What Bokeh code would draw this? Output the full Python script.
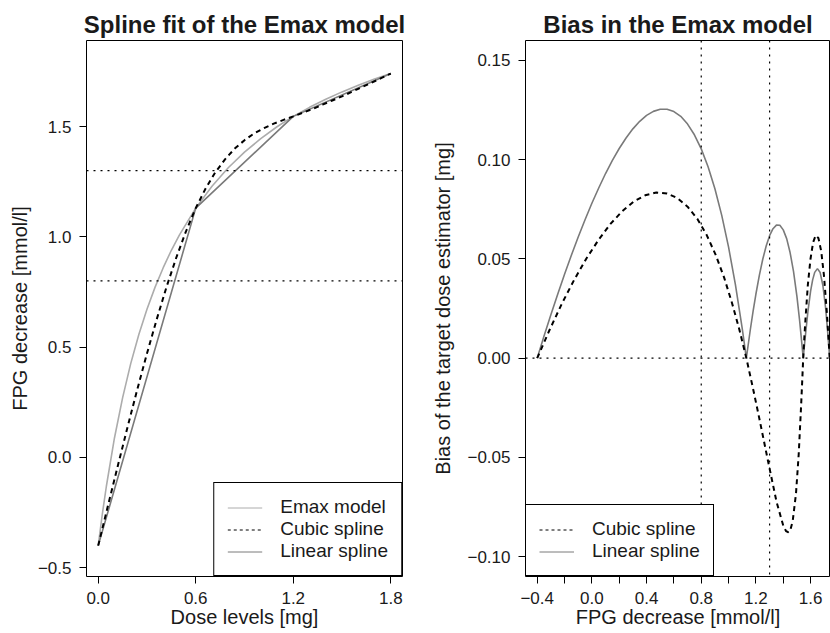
from bokeh.plotting import figure
from bokeh.layouts import row
from bokeh.models import Range1d, FixedTicker, Span, Legend, LegendItem
from bokeh.embed import file_html
from bokeh.resources import INLINE

# ---------------- data ----------------
dose_knots = [0.0, 0.6, 1.2, 1.8]
fpg_knots = [-0.40, 1.13, 1.546, 1.74]

emax_dose = [0.0, 0.025, 0.05, 0.1, 0.15, 0.2, 0.25, 0.3, 0.35, 0.4, 0.45, 0.5, 0.6,
             0.7, 0.8, 0.9, 1.0, 1.1, 1.2, 1.3, 1.4, 1.5, 1.6, 1.7, 1.8]
emax_fpg = [-0.400, -0.259, -0.132, 0.088, 0.270, 0.425, 0.557, 0.672, 0.772, 0.860, 0.939,
            1.009, 1.130, 1.229, 1.313, 1.384, 1.445, 1.499, 1.546, 1.587, 1.624, 1.657,
            1.687, 1.715, 1.740]

cubic_dose = [0.0, 0.06, 0.12, 0.18, 0.24, 0.30, 0.36, 0.42, 0.48, 0.54, 0.60, 0.66, 0.72,
              0.78, 0.84, 0.90, 0.96, 1.02, 1.08, 1.14, 1.20, 1.26, 1.32, 1.38, 1.44, 1.50,
              1.56, 1.62, 1.68, 1.74, 1.80]
cubic_fpg = [-0.400, -0.219, -0.040, 0.136, 0.307, 0.471, 0.626, 0.772, 0.905, 1.025, 1.130,
             1.218, 1.292, 1.351, 1.400, 1.438, 1.469, 1.493, 1.513, 1.530, 1.546, 1.563,
             1.580, 1.599, 1.618, 1.637, 1.657, 1.678, 1.698, 1.719, 1.740]

target_lines = [0.8, 1.3]

lin_bias_x = [-0.4, -0.35, -0.3, -0.25, -0.2, -0.15, -0.1, -0.05, 0.0, 0.05, 0.1, 0.15, 0.2,
              0.25, 0.3, 0.35, 0.4, 0.45, 0.5, 0.55, 0.6, 0.65, 0.7, 0.75, 0.8, 0.85, 0.9,
              0.95, 1.0, 1.05, 1.1, 1.13, 1.16, 1.18, 1.2, 1.225, 1.25, 1.275, 1.3, 1.325,
              1.35, 1.375, 1.4, 1.425, 1.45, 1.475, 1.5, 1.52, 1.53, 1.546, 1.56, 1.58,
              1.60, 1.615, 1.63, 1.65, 1.67, 1.69, 1.71, 1.725, 1.74]
lin_bias_y = [0.0, 0.0111, 0.0218, 0.0322, 0.0422, 0.0518, 0.0610, 0.0697, 0.0780, 0.0857,
              0.0930, 0.0996, 0.1056, 0.1109, 0.1155, 0.1193, 0.1223, 0.1243, 0.1254, 0.1254,
              0.1242, 0.1218, 0.1179, 0.1125, 0.1054, 0.0964, 0.0853, 0.0719, 0.0559, 0.0370,
              0.0149, 0.0, 0.0148, 0.0239, 0.0323, 0.0417, 0.0498, 0.0565, 0.0617, 0.0652,
              0.0670, 0.0669, 0.0646, 0.0602, 0.0532, 0.0437, 0.0311, 0.0187, 0.0116, 0.0,
              0.0100, 0.0233, 0.0337, 0.0394, 0.0432, 0.0451, 0.0431, 0.0366, 0.0252, 0.0132,
              0.0]

cub_bias_x = [-0.4, -0.309, -0.219, -0.129, -0.040, 0.049, 0.136, 0.222, 0.307, 0.390, 0.471,
              0.550, 0.626, 0.700, 0.772, 0.840, 0.905, 0.967, 1.025, 1.080, 1.13, 1.176,
              1.218, 1.292, 1.351, 1.400, 1.420, 1.438, 1.454, 1.469, 1.493, 1.513, 1.530,
              1.538, 1.546, 1.554, 1.563, 1.580, 1.599, 1.618, 1.637, 1.657, 1.678, 1.698,
              1.719, 1.730, 1.74]
cub_bias_y = [0.0, 0.0143, 0.0275, 0.0395, 0.0502, 0.0596, 0.0676, 0.0740, 0.0789, 0.0820,
              0.0834, 0.0829, 0.0806, 0.0763, 0.0701, 0.0620, 0.0521, 0.0407, 0.0278, 0.0141,
              0.0, -0.0144, -0.0281, -0.0530, -0.0724, -0.0844, -0.0871, -0.0877, -0.0860,
              -0.0821, -0.0684, -0.0484, -0.0248, -0.0126, 0.0, 0.0101, 0.0201, 0.0370,
              0.0498, 0.0582, 0.0618, 0.0605, 0.0538, 0.0414, 0.0229, 0.0112, 0.0]

left_xticks = [0.0, 0.6, 1.2, 1.8]
left_xlabels = ["0.0", "0.6", "1.2", "1.8"]
left_yticks = [-0.5, 0.0, 0.5, 1.0, 1.5]
left_ylabels = ["\u22120.5", "0.0", "0.5", "1.0", "1.5"]
right_xticks = [-0.4, -0.2, 0.0, 0.2, 0.4, 0.6, 0.8, 1.0, 1.2, 1.4, 1.6]
right_xlabels = ["\u22120.4", "", "0.0", "", "0.4", "", "0.8", "", "1.2", "", "1.6"]
right_yticks = [-0.10, -0.05, 0.0, 0.05, 0.10, 0.15]
right_ylabels = ["\u22120.10", "\u22120.05", "0.00", "0.05", "0.10", "0.15"]

FONT = "Liberation Sans"
EMAX_C = "#acacac"
LIN_C = "#7a7a7a"
TXT = "#1a1a1a"
DOT = "2 5"


def style(p, xt, xl, yt, yl, ylab_standoff):
    p.grid.visible = False
    p.outline_line_color = "black"
    p.outline_line_width = 1
    p.outline_line_alpha = 1
    p.background_fill_color = "white"
    p.border_fill_color = "white"
    p.title.align = "center"
    p.title.text_font = FONT
    p.title.text_font_size = "24px"
    p.title.text_font_style = "bold"
    p.title.text_color = TXT
    p.title.standoff = 5
    for ax in (p.xaxis[0], p.yaxis[0]):
        ax.axis_line_color = None
        ax.major_tick_in = 0
        ax.major_tick_out = 7
        ax.major_tick_line_color = "black"
        ax.major_tick_line_width = 1
        ax.minor_tick_line_color = None
        ax.major_label_text_font = FONT
        ax.major_label_text_font_size = "17px"
        ax.major_label_text_color = TXT
        ax.axis_label_text_font = FONT
        ax.axis_label_text_font_size = "20px"
        ax.axis_label_text_font_style = "normal"
        ax.axis_label_text_color = TXT
    p.xaxis[0].ticker = FixedTicker(ticks=xt)
    p.xaxis[0].major_label_overrides = {t: s for t, s in zip(xt, xl)}
    p.yaxis[0].ticker = FixedTicker(ticks=yt)
    p.yaxis[0].major_label_overrides = {t: s for t, s in zip(yt, yl)}
    p.xaxis[0].major_label_standoff = 8
    p.xaxis[0].axis_label_standoff = -1
    p.yaxis[0].major_label_standoff = 8
    p.yaxis[0].axis_label_standoff = ylab_standoff


def make_legend(p, entries, loc):
    items = []
    for label, color, dash, width in entries:
        # legend-only renderer, placed outside the visible ranges
        r = p.line(x=[-9.0, -8.0], y=[-9.0, -8.0], line_color=color, line_dash=dash,
                   line_width=width)
        items.append(LegendItem(label=label, renderers=[r]))
    leg = Legend(items=items, location=loc, border_line_color="black", border_line_width=1,
                 border_line_alpha=1, background_fill_color="white", background_fill_alpha=1,
                 padding=13, spacing=0, margin=0, glyph_width=35, glyph_height=21,
                 label_height=21, label_standoff=18, label_text_font=FONT,
                 label_text_font_size="19px", label_text_color=TXT)
    p.add_layout(leg)


# ---------------- left panel ----------------
p1 = figure(width=415, height=633, output_backend="svg", toolbar_location=None,
            title="Spline fit of the Emax model",
            x_range=Range1d(-0.072, 1.872), y_range=Range1d(-0.54, 1.89),
            min_border_left=86, min_border_right=13, min_border_top=40, min_border_bottom=57,
            x_axis_label="Dose levels [mg]", y_axis_label="FPG decrease [mmol/l]")
style(p1, left_xticks, left_xlabels, left_yticks, left_ylabels, 4)

for v in target_lines:
    p1.add_layout(Span(location=v, dimension="width", line_color="black", line_width=1.2,
                       line_dash=DOT, level="overlay"))

p1.line(emax_dose, emax_fpg, line_color=EMAX_C, line_width=1.6)
p1.line(dose_knots, fpg_knots, line_color=LIN_C, line_width=1.6)
p1.line(cubic_dose, cubic_fpg, line_color="black", line_width=2, line_dash="5 4")

make_legend(p1, [("Emax model", EMAX_C, "solid", 1),
                 ("Cubic spline", "black", "3 3", 1),
                 ("Linear spline", LIN_C, "solid", 1)], "bottom_right")

# ---------------- right panel ----------------
p2 = figure(width=415, height=633, output_backend="svg", toolbar_location=None,
            title="Bias in the Emax model",
            x_range=Range1d(-0.4856, 1.7456), y_range=Range1d(-0.11, 0.16),
            min_border_left=110, min_border_right=0, min_border_top=40, min_border_bottom=57,
            x_axis_label="FPG decrease [mmol/l]",
            y_axis_label="Bias of the target dose estimator [mg]")
style(p2, right_xticks, right_xlabels, right_yticks, right_ylabels, 10)

p2.add_layout(Span(location=0.0, dimension="width", line_color="black", line_width=1.2,
                   line_dash=DOT, level="overlay"))
for v in target_lines:
    p2.add_layout(Span(location=v, dimension="height", line_color="black", line_width=1.2,
                       line_dash=DOT, level="overlay"))

p2.line(lin_bias_x, lin_bias_y, line_color=LIN_C, line_width=1.6)
p2.line(cub_bias_x, cub_bias_y, line_color="black", line_width=2, line_dash="5 4")

make_legend(p2, [("Cubic spline", "black", "3 3", 1),
                 ("Linear spline", LIN_C, "solid", 1)], "bottom_left")

layout = row(p1, p2)
open("out.html", "w").write(file_html(layout, INLINE))
